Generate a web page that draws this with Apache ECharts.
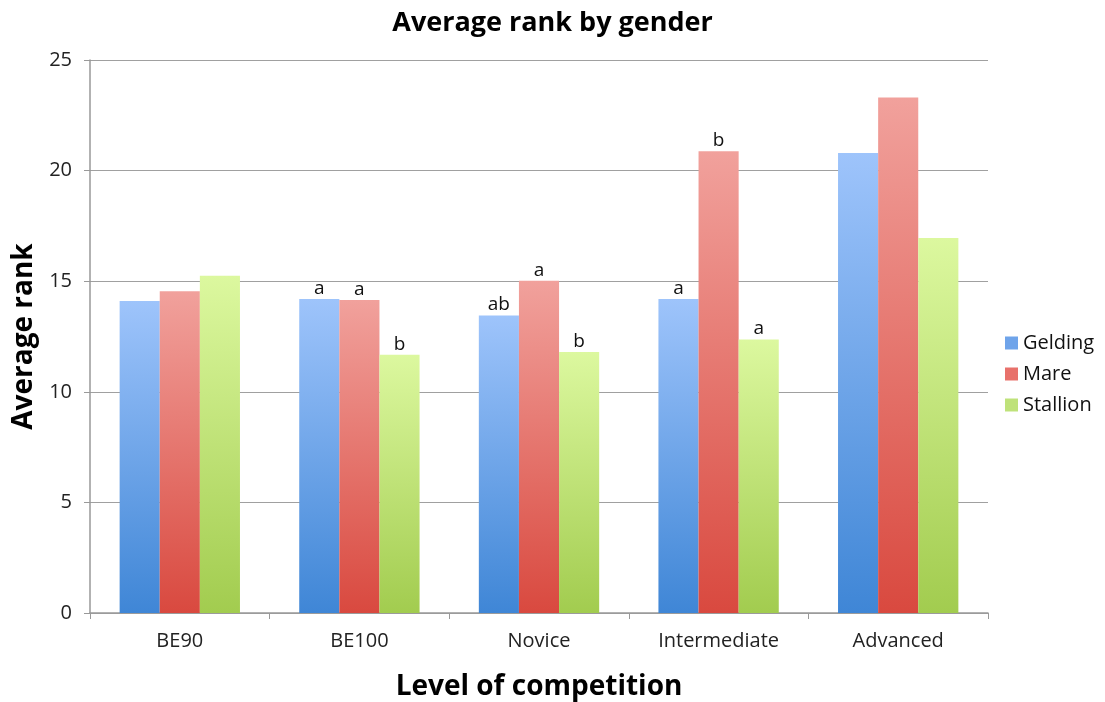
<!DOCTYPE html>
<html>
<head>
<meta charset="utf-8">
<script src="https://cdn.jsdelivr.net/npm/echarts@6/dist/echarts.min.js"></script>
<style>html,body{margin:0;padding:0;background:#fff;}#c{width:1105px;height:702px;}</style>
</head>
<body>
<div id="c"></div>
<script>
const categories = ['BE90', 'BE100', 'Novice', 'Intermediate', 'Advanced'];
const gelding = [14.1, 14.2, 13.45, 14.2, 20.8];
const mare = [14.55, 14.15, 15.02, 20.88, 23.3];
const stallion = [15.25, 11.68, 11.8, 12.37, 16.95];
const geldingLabels = ['', 'a', 'ab', 'a', ''];
const mareLabels = ['', 'a', 'a', 'b', ''];
const stallionLabels = ['', 'b', 'b', 'a', ''];
const yTicks = [0, 5, 10, 15, 20, 25];

const FONT = 'Open Sans';
function grad(top, bottom) {
  return new echarts.graphic.LinearGradient(0, 0, 0, 1, [
    {offset: 0, color: top}, {offset: 1, color: bottom}
  ]);
}
function mk(name, vals, labels, top, bottom) {
  return {
    name: name, type: 'bar', barGap: '0%', barCategoryGap: '33%',
    data: vals.map((v, i) => ({value: v, label: {formatter: labels[i]}})),
    itemStyle: {color: grad(top, bottom)},
    label: {show: true, position: 'top', distance: 1, color: '#111', fontSize: 19, fontFamily: FONT},
  };
}
const chart = echarts.init(document.getElementById('c'));
chart.setOption({
  animation: false,
  color: ['#6fa4ea', '#e8716b', '#bfe27a'],
  title: {text: 'Average rank by gender', left: 'center', top: 5,
    textStyle: {fontFamily: FONT, fontWeight: 'bold', fontSize: 27, color: '#000'}},
  legend: {orient: 'vertical', left: 1000, top: 328, itemWidth: 13, itemHeight: 13, itemGap: 11,
    icon: 'rect', textStyle: {fontFamily: FONT, fontSize: 20, color: '#111'},
    data: [
      {name: 'Gelding', itemStyle: {color: '#6fa4ea'}},
      {name: 'Mare', itemStyle: {color: '#e8716b'}},
      {name: 'Stallion', itemStyle: {color: '#bfe27a'}}
    ]},
  grid: {left: 90, right: 117, top: 60, bottom: 89, containLabel: false, outerBoundsMode: 'none'},
  xAxis: {type: 'category', data: categories,
    name: 'Level of competition', nameLocation: 'middle', nameGap: 60,
    nameTextStyle: {fontFamily: FONT, fontWeight: 'bold', fontSize: 28, color: '#000'},
    axisLine: {lineStyle: {color: '#999', width: 1.5}},
    axisTick: {show: true, length: 6, lineStyle: {color: '#999'}},
    axisLabel: {fontFamily: FONT, fontSize: 20, color: '#222', margin: 18}},
  yAxis: {type: 'value', min: 0, max: 25, interval: 5,
    name: 'Average rank', nameLocation: 'middle', nameGap: 47,
    nameTextStyle: {fontFamily: FONT, fontWeight: 'bold', fontSize: 28, color: '#000'},
    axisLine: {show: true, lineStyle: {color: '#999', width: 1.5}},
    axisTick: {show: true, length: 6, lineStyle: {color: '#999'}},
    axisLabel: {fontFamily: FONT, fontSize: 20, color: '#222', margin: 18,
      formatter: v => yTicks.includes(v) ? String(v) : ''},
    splitLine: {lineStyle: {color: '#a0a0a0', width: 1.2}}},
  series: [
    mk('Gelding', gelding, geldingLabels, '#9ec4fb', '#3f86d6'),
    mk('Mare', mare, mareLabels, '#f1a19c', '#d9493f'),
    mk('Stallion', stallion, stallionLabels, '#dcf89f', '#a2cc4f')
  ]
});
</script>
</body>
</html>
